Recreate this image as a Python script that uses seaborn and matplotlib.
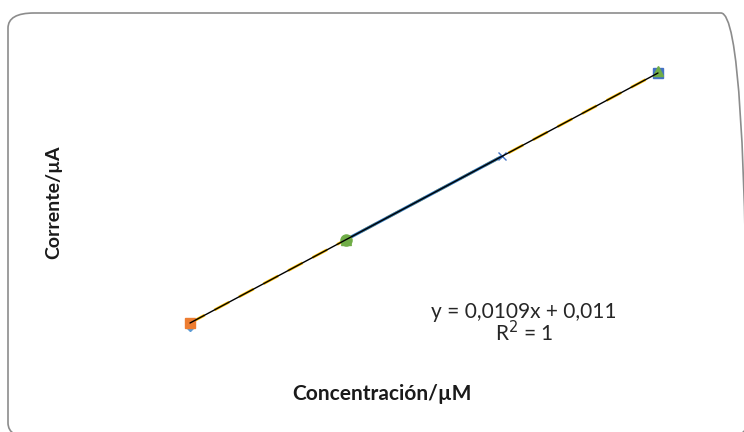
import numpy as np
import pandas as pd
import matplotlib
matplotlib.use("Agg")
import matplotlib.pyplot as plt
import seaborn as sns
from matplotlib.patches import FancyBboxPatch

# concentration (uM) and current (uA)
conc = [10, 20, 30, 40]
corrente = [0.120, 0.229, 0.338, 0.447]

# pieces of the separate series drawn on top of each other
s_blue_x, s_blue_y = [40], [0.447]
s_orange_x, s_orange_y = [10], [0.120]
s_gray_x, s_gray_y = [10], [0.116]
s_yellow_x, s_yellow_y = [10, 20, 30, 40], [0.120, 0.229, 0.338, 0.447]
s_lblue_x, s_lblue_y = [20, 30], [0.229, 0.338]
s_green_x, s_green_y = [20, 40], [0.229, 0.450]

slope, intercept = 0.0109, 0.011


def main():
    sns.set_style("white")
    plt.rcParams['font.family'] = ['Lato', 'DejaVu Sans']

    fig = plt.figure(figsize=(7.44, 4.32), dpi=100)
    border = FancyBboxPatch((8 / 744, -6 / 432), 739 / 744, 425 / 432,
                            boxstyle="round,pad=0,rounding_size=0.035",
                            transform=fig.transFigure, fill=False,
                            edgecolor="#8c8c8c", linewidth=1.2)
    fig.patches.append(border)

    ax = fig.add_axes([190 / 744, 1 - 323 / 432, 468 / 744, 250 / 432])
    ax.set_xlim(10, 40)
    ax.set_ylim(0.120, 0.447)
    ax.axis("off")

    sns.lineplot(x=s_yellow_x, y=s_yellow_y, ax=ax, color="#FFC000",
                 linewidth=2, linestyle=(0, (6, 4)), clip_on=False)
    sns.lineplot(x=s_lblue_x, y=s_lblue_y, ax=ax, color="#2E75B6",
                 linewidth=2.2, clip_on=False)
    ax.plot([30], [0.338], marker="x", color="#4472C4", markersize=6,
            clip_on=False)
    ax.plot(s_gray_x, s_gray_y, marker="D", color="#5B9BD5", markersize=5,
            linestyle="none", clip_on=False)
    ax.plot(s_orange_x, s_orange_y, marker="s", color="#ED7D31", markersize=7,
            linestyle="none", clip_on=False)
    ax.plot(s_blue_x, s_blue_y, marker="s", color="#4472C4", markersize=7,
            linestyle="none", clip_on=False)
    ax.plot(s_green_x, s_green_y, marker="^", color="#70AD47", markersize=7,
            linestyle="none", clip_on=False)
    ax.plot([20], [0.229], marker="o", color="#70AD47", markersize=8,
            clip_on=False)

    # linear trendline
    xs = np.array([conc[0], conc[-1]])
    ax.plot(xs, slope * xs + intercept, color="black", linewidth=1,
            clip_on=False)

    fig.text(382 / 744, 1 - 394 / 432, "Concentración/µM", ha="center",
             va="center", fontsize=15, fontweight="bold", color="#1a1a1a")
    fig.text(54 / 744, 1 - 202 / 432, "Corrente/µA", ha="center",
             va="center", rotation=90, fontsize=14, fontweight="bold",
             color="#1a1a1a")
    fig.text(524 / 744, 1 - 312 / 432, "y = 0,0109x + 0,011", ha="center",
             va="center", fontsize=15, color="#262626")
    fig.text(524 / 744, 1 - 333 / 432, "R$^2$ = 1", ha="center",
             va="center", fontsize=15, color="#262626")

    fig.savefig("out.png", dpi=100)


if __name__ == "__main__":
    main()
